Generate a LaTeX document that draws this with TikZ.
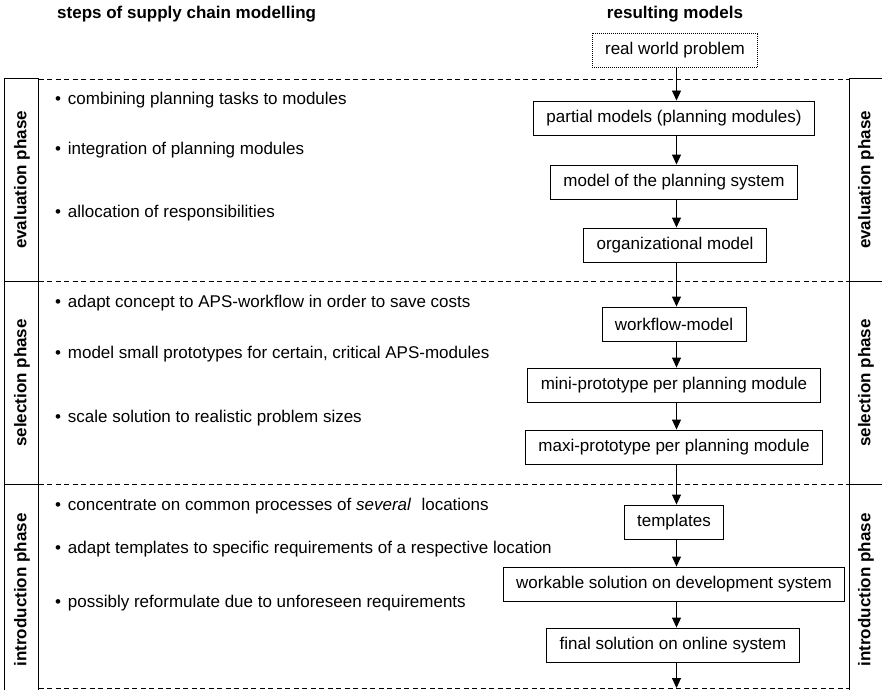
\documentclass[tikz,border=0pt]{standalone}
\usepackage{fontspec}
\setmainfont{Liberation Sans}
\usetikzlibrary{arrows.meta}
\newcommand{\blt}{•\hspace{0.4em}}
\begin{document}
\begin{tikzpicture}[x=1pt,y=-1pt,
  every node/.style={font=\fontsize{17}{20}\selectfont},
  modelbox/.style={draw, line width=0.9pt, inner xsep=13pt, inner ysep=0pt, minimum height=34pt, fill=white},
  realbox/.style={modelbox, dash pattern=on 1pt off 1pt},
  flow/.style={line width=0.9pt, -{Triangle[length=10pt,width=9pt]}},
  phasesep/.style={line width=0.9pt, dash pattern=on 5pt off 3.5pt},
  barline/.style={line width=0.9pt},
  phaselabel/.style={rotate=90, font=\fontsize{17}{20}\selectfont\bfseries},
  titletext/.style={font=\fontsize{17}{20}\selectfont\bfseries, inner sep=0pt},
  steptext/.style={anchor=base west, inner sep=0pt}
]
\useasboundingbox (0,0) rectangle (882,690);

% titles
\node[titletext, anchor=base west] (t1) at (57,19) {steps of supply chain modelling};
\node[titletext, anchor=base] (t2) at (675,19) {resulting models};

% side bars
\draw[barline] (4.5,690) -- (4.5,78.5) -- (38.5,78.5) -- (38.5,690);
\draw[barline] (4.5,281) -- (38.5,281);
\draw[barline] (4.5,484) -- (38.5,484);
\draw[barline] (882,78.5) -- (849,78.5) -- (849,690);
\draw[barline] (849,281) -- (882,281);
\draw[barline] (849,484) -- (882,484);

% phase separators
\draw[phasesep] (38.5,79) -- (849,79);
\draw[phasesep] (38.5,281) -- (849,281);
\draw[phasesep] (38.5,484) -- (849,484);
\draw[phasesep] (38.5,688) -- (849,688);

% phase labels
\node[phaselabel] (le) at (22,180) {evaluation phase};
\node[phaselabel] (ls) at (22,383) {selection phase};
\node[phaselabel] (li) at (22,590) {introduction phase};
\node[phaselabel] (re) at (866,180) {evaluation phase};
\node[phaselabel] (rs) at (866,383) {selection phase};
\node[phaselabel] (ri) at (866,590) {introduction phase};

% steps
\node[steptext] (s1) at (55,104) {\blt combining planning tasks to modules};
\node[steptext] (s2) at (55,154) {\blt integration of planning modules};
\node[steptext] (s3) at (55,217) {\blt allocation of responsibilities};
\node[steptext] (s4) at (55,307) {\blt adapt concept to APS-workflow in order to save costs};
\node[steptext] (s5) at (55,358) {\blt model small prototypes for certain, critical APS-modules};
\node[steptext] (s6) at (55,422) {\blt scale solution to realistic problem sizes};
\node[steptext] (s7) at (55,510) {\blt concentrate on common processes of \textit{several}\hspace{0.6em}locations};
\node[steptext] (s8) at (55,553) {\blt adapt templates to specific requirements of a respective location};
\node[steptext] (s9) at (55,607) {\blt possibly reformulate due to unforeseen requirements};

% models
\node[realbox] (m0) at (675,50) {real world problem};
\node[modelbox] (m1) at (674,118) {partial models (planning modules)};
\node[modelbox] (m2) at (674,182) {model of the planning system};
\node[modelbox] (m3) at (675,245) {organizational model};
\node[modelbox] (m4) at (674,324) {workflow-model};
\node[modelbox] (m5) at (674,385) {mini-prototype per planning module};
\node[modelbox] (m6) at (674,447) {maxi-prototype per planning module};
\node[modelbox] (m7) at (674,522) {templates};
\node[modelbox] (m8) at (674,584) {workable solution on development system};
\node[modelbox] (m9) at (673,645) {final solution on online system};
\coordinate (mend) at (676.5,688);

\foreach \a/\b in {m0/m1,m1/m2,m2/m3,m3/m4,m4/m5,m5/m6,m6/m7,m7/m8,m8/m9}
  \draw[flow] (\a.south -| mend) -- (\b.north -| mend);
\draw[flow] (m9.south -| mend) -- (mend);
\end{tikzpicture}
\end{document}
